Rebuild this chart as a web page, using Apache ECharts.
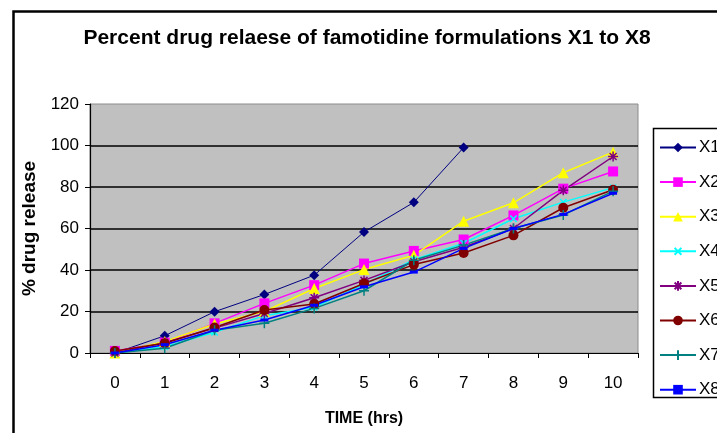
<!DOCTYPE html>
<html><head><meta charset="utf-8">
<script src="https://cdn.jsdelivr.net/npm/echarts@6/dist/echarts.min.js"></script>
<style>html,body{margin:0;padding:0;background:#fff}#c{width:717px;height:433px}</style>
</head><body><div id="c"></div>
<script>
const categories = ['0','1','2','3','4','5','6','7','8','9','10'];
const yTicks = [0,20,40,60,80,100,120];
const X1 = [0, 8.3, 19.9, 28.2, 37.5, 58.3, 72.6, 99];
const X2 = [1, 5, 14.3, 23.9, 32.7, 43.1, 49.2, 54.7, 66.3, 79.2, 87.5];
const X3 = [0, 5.5, 14, 20, 31.1, 40.2, 47.1, 63.5, 72.4, 86.9, 96.8];
const X4 = [0, 3, 10, 18, 22, 33, 45, 52.9, 64.7, 72.7, 79.7];
const X5 = [0, 5, 12, 19, 26.6, 35, 44, 51, 60, 78.4, 94.7];
const X6 = [1, 4.7, 12.3, 20.7, 23.6, 33.5, 42.6, 48.2, 56.7, 70, 78.7];
const X7 = [0, 2.3, 11, 14.3, 21.5, 30, 44.7, 52, 60, 66.5, 78];
const X8 = [0, 4, 11, 15.9, 23, 31.9, 39, 50.4, 60, 66.8, 77];
const seriesNames = ['X1','X2','X3','X4','X5','X6','X7','X8'];
const seriesData = [X1,X2,X3,X4,X5,X6,X7,X8];

const plusPath = 'path://M5,0L5,10M0,5L10,5';
const starPath = 'path://M5,0L5,10M0,5L10,5M1.5,1.5L8.5,8.5M8.5,1.5L1.5,8.5';
const styles = [
  {color:'#000080', symbol:'diamond', size:10, lw:1},
  {color:'#ff00ff', symbol:'rect', size:10, lw:1.5},
  {color:'#ffff00', symbol:'triangle', size:11, lw:1.5},
  {color:'#00ffff', symbol:plusPath, size:9, lw:1.5, rot:45, stroke:true},
  {color:'#800080', symbol:starPath, size:10, lw:1.5, stroke:true},
  {color:'#800000', symbol:'circle', size:10, lw:1.5},
  {color:'#008080', symbol:plusPath, size:10, lw:1.5, stroke:true},
  {color:'#0000ff', symbol:'rect', size:[8,3], lw:1.5}
];

const chart = echarts.init(document.getElementById('c'), null, {renderer:'canvas'});
const font = 'Liberation Sans, Arial, sans-serif';
chart.setOption({
  animation:false,
  backgroundColor:'#ffffff',
  title:{
    text:'Percent drug relaese of famotidine formulations X1 to X8',
    left:362, top:23, textAlign:'center',
    textStyle:{fontFamily:font, fontSize:21, fontWeight:'bold', color:'#000'}
  },
  graphic:[
    {type:'rect', shape:{x:13.5, y:11.5, width:800, height:500}, style:{fill:'none', stroke:'#000', lineWidth:2.5}, silent:true, z:-1},
    {type:'rect', shape:{x:653.5, y:128.5, width:100, height:269}, style:{fill:'#fff', stroke:'#000', lineWidth:1.5}, silent:true, z:-1}
  ],
  legend:{
    orient:'vertical', left:659, top:139, itemWidth:36, itemHeight:12, itemGap:17.6,
    padding:0,
    data:seriesNames,
    textStyle:{fontFamily:font, fontSize:17, color:'#000', padding:[0,0,0,-2]}
  },
  grid:{left:90, right:79, top:104, bottom:80, show:true, backgroundColor:'#c0c0c0', borderColor:'#8c8c8c', borderWidth:1},
  xAxis:{
    type:'category', data:categories, boundaryGap:true,
    name:'TIME (hrs)', nameLocation:'middle', nameGap:58,
    nameTextStyle:{fontFamily:font, fontSize:16, fontWeight:'bold', color:'#000'},
    axisLine:{lineStyle:{color:'#000', width:1.2}},
    axisTick:{show:true, alignWithLabel:false, length:5, lineStyle:{color:'#000'}},
    axisLabel:{fontFamily:font, fontSize:17, color:'#000', margin:22},
    splitLine:{show:false}
  },
  yAxis:{
    type:'value', min:yTicks[0], max:yTicks[yTicks.length-1], interval:20,
    name:'% drug release', nameLocation:'middle', nameGap:48, nameRotate:90,
    nameTextStyle:{fontFamily:font, fontSize:19, fontWeight:'bold', color:'#000'},
    axisLine:{show:true, lineStyle:{color:'#000', width:1.2}},
    axisTick:{show:true, length:5, lineStyle:{color:'#000'}},
    axisLabel:{fontFamily:font, fontSize:17, color:'#000', margin:11},
    splitLine:{show:true, showMinLine:false, showMaxLine:false, lineStyle:{color:'#000', width:1.5}}
  },
  series: seriesNames.map((n,i)=>{
    const s = styles[i];
    return {
      name:n, type:'line', data:seriesData[i],
      symbol:s.symbol, symbolSize:s.size, symbolRotate:s.rot||0,
      showAllSymbol:true,
      lineStyle:{color:s.color, width:s.lw},
      itemStyle:{color:s.color, borderColor:s.color, borderWidth:s.stroke?1.5:0},
      emphasis:{disabled:true}
    };
  })
});
</script></body></html>
